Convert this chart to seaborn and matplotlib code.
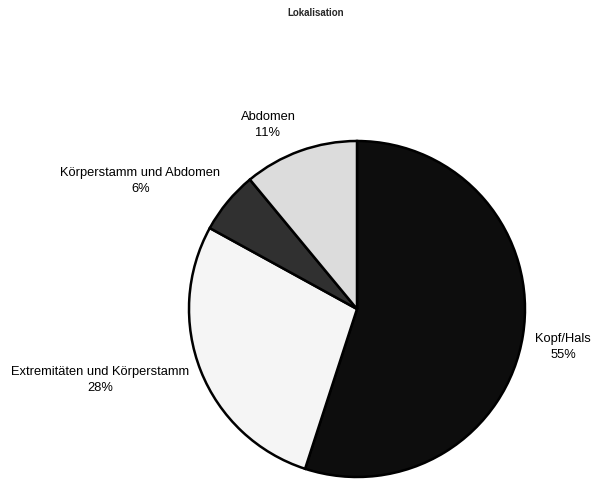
import numpy as np
import pandas as pd
import matplotlib.pyplot as plt
import seaborn as sns

sns.set_theme(style="white")
plt.rcParams['font.family'] = ['Liberation Sans', 'DejaVu Sans']

# data
categories = ["Kopf/Hals", "Extremitäten und Körperstamm",
              "Körperstamm und Abdomen", "Abdomen"]
shares = [55, 28, 6, 11]
slice_colors = ["#0d0d0d", "#f5f5f5", "#303030", "#dcdcdc"]

df = pd.DataFrame({"lokalisation": categories, "anteil": shares})

fig = plt.figure(figsize=(5.93, 4.88), dpi=100)
# pie centre at (357, 309) px, radius 168 px
ax = fig.add_axes([(357 - 168) / 593, (488 - 309 - 168) / 488, 336 / 593, 336 / 488])

wedges, _ = ax.pie(
    df["anteil"],
    colors=slice_colors,
    startangle=90,
    counterclock=False,
    radius=1,
    wedgeprops={"edgecolor": "black", "linewidth": 1.8},
)

# label centres (data units, pie radius = 1)
label_pos = [(1.226, -0.228), (-1.53, -0.423), (-1.29, 0.762), (-0.53, 1.095)]
for (x, y), name, val in zip(label_pos, df["lokalisation"], df["anteil"]):
    ax.text(x, y, f"{name}\n{val}%", ha="center", va="center",
            fontsize=9.3, linespacing=1.45, color="black", clip_on=False)

ax.set_xlim(-1, 1)
ax.set_ylim(-1, 1)
ax.set_aspect("equal")
ax.axis("off")

fig.text(316 / 593, 1 - 13 / 488, "Lokalisation", ha="center", va="center",
         fontsize=7.0, fontweight="bold")

fig.savefig("out.png", dpi=100)
